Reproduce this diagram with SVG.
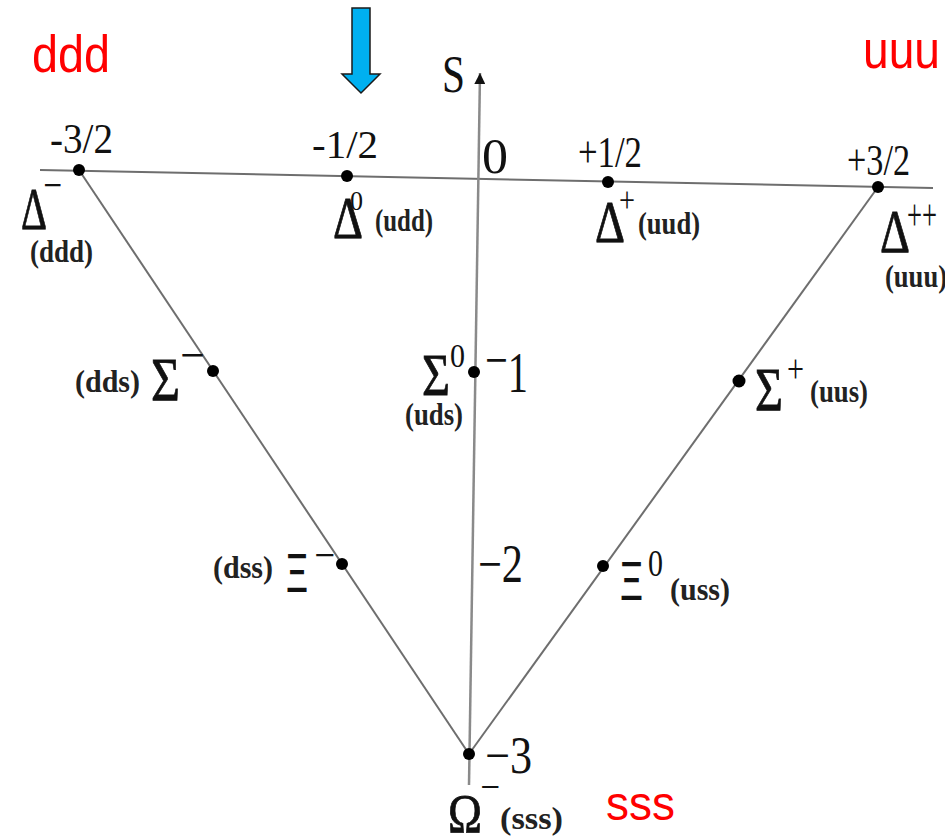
<svg xmlns="http://www.w3.org/2000/svg" width="945" height="837" viewBox="0 0 945 837">
<style>
.ln{stroke:#6e6e6e;stroke-width:2;fill:none}
.ax{stroke:#8a8a8a;stroke-width:2.5;fill:none}
.dot{fill:#000}
.t{font-family:"Liberation Serif","Times New Roman",serif;fill:#111}
.g{stroke:#111;stroke-width:0.8}
.xi{font-family:"Liberation Sans",Arial,sans-serif;fill:#111;font-size:56px}
.q{font-family:"Liberation Serif","Times New Roman",serif;font-weight:bold;font-size:32px;fill:#222}
.red{font-family:"Liberation Sans",Arial,sans-serif;fill:#ff0000}
</style>
<defs>
<marker id="axhead" viewBox="0 0 10 10" refX="10" refY="5" markerWidth="13" markerHeight="11" markerUnits="userSpaceOnUse" orient="auto">
<path d="M0,0 L10,5 L0,10 Z" fill="#111"/>
</marker>
</defs>
<rect width="945" height="837" fill="#fff"/>
<g id="connectors">
<line class="ln" x1="40" y1="170" x2="933" y2="188"/>
<line class="ax" x1="469" y1="785" x2="480" y2="73" marker-end="url(#axhead)"/>
<line class="ln" x1="79" y1="170" x2="469" y2="754"/>
<line class="ln" x1="878" y1="187" x2="469" y2="754"/>
</g>
<g id="axis-labels">
<text class="t" x="442" y="92" font-size="52" textLength="23" lengthAdjust="spacingAndGlyphs">S</text>
<text class="t" x="482" y="173" font-size="50" textLength="26" lengthAdjust="spacingAndGlyphs">0</text>
<text class="t" x="50" y="153" font-size="42" textLength="63" lengthAdjust="spacingAndGlyphs">-3/2</text>
<text class="t" x="312" y="158" font-size="40" textLength="66" lengthAdjust="spacingAndGlyphs">-1/2</text>
<text class="t" x="578" y="167" font-size="44" textLength="64" lengthAdjust="spacingAndGlyphs">+1/2</text>
<text class="t" x="847" y="175" font-size="44" textLength="63" lengthAdjust="spacingAndGlyphs">+3/2</text>
<text class="t" x="485" y="392" font-size="56" textLength="43" lengthAdjust="spacingAndGlyphs"><tspan dy="-13">−</tspan><tspan dy="13">1</tspan></text>
<text class="t" x="478" y="582" font-size="54" textLength="45" lengthAdjust="spacingAndGlyphs">−2</text>
<text class="t" x="485" y="773" font-size="52" textLength="47" lengthAdjust="spacingAndGlyphs">−3</text>
</g>
<g id="arrow">
<path d="M352,8 L370,8 L370,74 L380,74 L361,93 L342,74 L352,74 Z" fill="#00b0f0" stroke="#1a1a1a" stroke-width="1.5"/>
</g>
<g id="quarks">
<text class="red" x="32" y="72" font-size="52" textLength="78" lengthAdjust="spacingAndGlyphs">ddd</text>
<text class="red" x="863" y="68" font-size="54" textLength="77" lengthAdjust="spacingAndGlyphs">uuu</text>
<text class="red" x="606" y="820" font-size="48" textLength="69" lengthAdjust="spacingAndGlyphs">sss</text>
</g>
<g id="delta-minus">
<circle class="dot" cx="79" cy="170" r="6"/>
<text class="t g" x="21" y="229" font-size="60" textLength="26" lengthAdjust="spacingAndGlyphs">Δ</text>
<text class="t" x="43" y="196" font-size="32" font-weight="bold" textLength="19" lengthAdjust="spacingAndGlyphs">−</text>
<text class="q" x="30" y="262" textLength="63" lengthAdjust="spacingAndGlyphs">(ddd)</text>
</g>
<g id="delta-zero">
<circle class="dot" cx="347" cy="176" r="6"/>
<text class="t g" x="333" y="238" font-size="60" textLength="30" lengthAdjust="spacingAndGlyphs">Δ</text>
<text class="t" x="350" y="210" font-size="28" textLength="13" lengthAdjust="spacingAndGlyphs">0</text>
<text class="q" x="375" y="231" textLength="58" lengthAdjust="spacingAndGlyphs">(udd)</text>
</g>
<g id="delta-plus">
<circle class="dot" cx="608" cy="182" r="6"/>
<text class="t g" x="595" y="242" font-size="60" textLength="30" lengthAdjust="spacingAndGlyphs">Δ</text>
<text class="t" x="619" y="212" font-size="36" textLength="16" lengthAdjust="spacingAndGlyphs">+</text>
<text class="q" x="638" y="234" textLength="62" lengthAdjust="spacingAndGlyphs">(uud)</text>
</g>
<g id="delta-plusplus">
<circle class="dot" cx="878" cy="187" r="6"/>
<text class="t g" x="880" y="252" font-size="62" textLength="30" lengthAdjust="spacingAndGlyphs">Δ</text>
<text class="t" x="907" y="230" font-size="44" textLength="30" lengthAdjust="spacingAndGlyphs">++</text>
<text class="q" x="885" y="287" textLength="62" lengthAdjust="spacingAndGlyphs">(uuu)</text>
</g>
<g id="sigma-minus">
<circle class="dot" cx="213" cy="371" r="6"/>
<text class="q" x="75" y="392" textLength="65" lengthAdjust="spacingAndGlyphs">(dds)</text>
<text class="t g" x="151" y="400" font-size="62" textLength="29" lengthAdjust="spacingAndGlyphs">Σ</text>
<text class="t" x="180" y="367" font-size="36" font-weight="bold" textLength="25" lengthAdjust="spacingAndGlyphs">−</text>
</g>
<g id="sigma-zero">
<circle class="dot" cx="474" cy="372" r="6"/>
<text class="t g" x="422" y="395" font-size="60" textLength="28" lengthAdjust="spacingAndGlyphs">Σ</text>
<text class="t" x="450" y="367" font-size="34" textLength="15" lengthAdjust="spacingAndGlyphs">0</text>
<text class="q" x="405" y="425" textLength="58" lengthAdjust="spacingAndGlyphs">(uds)</text>
</g>
<g id="sigma-plus">
<circle class="dot" cx="739" cy="381" r="6.5"/>
<text class="t g" x="755" y="410" font-size="62" textLength="28" lengthAdjust="spacingAndGlyphs">Σ</text>
<text class="t" x="787" y="382" font-size="40" textLength="17" lengthAdjust="spacingAndGlyphs">+</text>
<text class="q" x="810" y="402" textLength="58" lengthAdjust="spacingAndGlyphs">(uus)</text>
</g>
<g id="xi-minus">
<circle class="dot" cx="342" cy="564" r="6"/>
<text class="q" x="213" y="578" textLength="60" lengthAdjust="spacingAndGlyphs">(dss)</text>
<text class="xi" x="286" y="592" textLength="22" lengthAdjust="spacingAndGlyphs">Ξ</text>
<text class="t" x="314" y="566" font-size="32" font-weight="bold" textLength="21" lengthAdjust="spacingAndGlyphs">−</text>
</g>
<g id="xi-zero">
<circle class="dot" cx="603" cy="566" r="6"/>
<text class="xi" x="620" y="600" font-size="60" textLength="23" lengthAdjust="spacingAndGlyphs">Ξ</text>
<text class="t" x="648" y="576" font-size="38" textLength="15" lengthAdjust="spacingAndGlyphs">0</text>
<text class="q" x="670" y="600" textLength="60" lengthAdjust="spacingAndGlyphs">(uss)</text>
</g>
<g id="omega-minus">
<circle class="dot" cx="469" cy="754" r="6"/>
<text class="t g" x="448" y="832" font-size="54" textLength="34" lengthAdjust="spacingAndGlyphs">Ω</text>
<text class="t" x="480" y="797" font-size="30" font-weight="bold" textLength="20" lengthAdjust="spacingAndGlyphs">−</text>
<text class="q" x="500" y="829" textLength="63" lengthAdjust="spacingAndGlyphs">(sss)</text>
</g>
</svg>
